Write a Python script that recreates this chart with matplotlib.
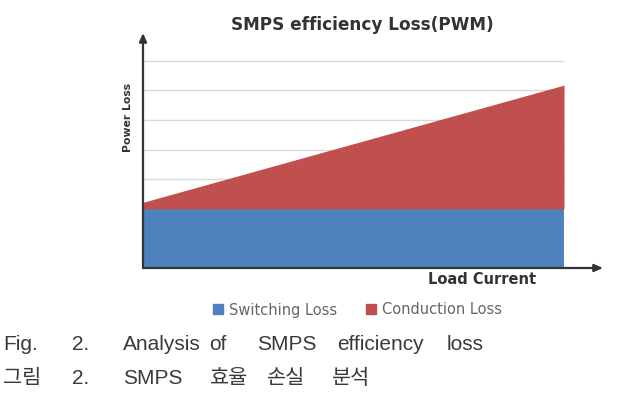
import matplotlib.pyplot as plt
from matplotlib.lines import Line2D

# data
load_current = [0.0, 1.0]
switching_loss = [2.0, 2.0]
conduction_loss = [0.22, 4.18]
grid_levels = [3, 4, 5, 6, 7]
series_names = ["Switching Loss", "Conduction Loss"]
series_colors = ["#4F81BD", "#C0504D"]

caption_en = ["Fig.", "2.", "Analysis", "of", "SMPS", "efficiency", "loss"]
caption_en_x = [3, 72, 123, 209, 257, 337, 447]
caption_ko = ["그림", "2.", "SMPS", "효율", "손실", "분석"]
caption_ko_x = [3, 72, 123, 210, 267, 332]

W, H = 618, 404
fig = plt.figure(figsize=(W / 100, H / 100), dpi=100)
ax = fig.add_axes([143 / W, (H - 268) / H, (603 - 143) / W, (268 - 33) / H])

top = [s + c for s, c in zip(switching_loss, conduction_loss)]
ax.hlines(grid_levels, load_current[0], load_current[-1], color="#d9d9d9", lw=1, zorder=0)
ax.fill_between(load_current, 0, switching_loss, color=series_colors[0], lw=0, zorder=2)
ax.fill_between(load_current, switching_loss, top, color=series_colors[1], lw=0, zorder=2)

ax.set_xlim(0, 460 / 421)
ax.set_ylim(0, 7.94)
for s in ax.spines.values():
    s.set_visible(False)
ax.set_xticks([])
ax.set_yticks([])
ax.patch.set_alpha(0)

arrow = dict(arrowstyle="-|>,head_length=0.5,head_width=0.22", color="#333333", lw=1.6,
             shrinkA=0, shrinkB=0)
ax.annotate("", xy=(1, 0), xytext=(0, 0), xycoords="axes fraction", arrowprops=arrow, zorder=5)
ax.annotate("", xy=(0, 1), xytext=(0, 0), xycoords="axes fraction", arrowprops=arrow, zorder=5)

fig.text(362 / W, 1 - 25 / H, "SMPS efficiency Loss(PWM)", ha="center", va="center",
         fontsize=12.2, fontweight="bold", family="DejaVu Sans", color="#333333")
fig.text(128 / W, 1 - 117 / H, "Power Loss", ha="center", va="center", rotation=90,
         fontsize=7.8, fontweight="bold", family="DejaVu Sans", color="#333333")
fig.text(482 / W, 1 - 280 / H, "Load Current", ha="center", va="center",
         fontsize=10.5, fontweight="bold", family="DejaVu Sans", color="#333333")

handles = [Line2D([], [], marker="s", ls="", color=c, markersize=6.5) for c in series_colors]
fig.legend(handles, series_names, loc="center", bbox_to_anchor=(357 / W, 1 - 310 / H),
           ncol=2, frameon=False, handlelength=0.8, handletextpad=0.35, columnspacing=1.9,
           prop={"family": "DejaVu Sans", "size": 10.5}, labelcolor="#666666")

cap = dict(fontsize=15, color="#3a3a3a", va="baseline")
for word, x in zip(caption_en, caption_en_x):
    fig.text(x / W, 1 - 350 / H, word, family="Liberation Sans", **cap)
for word, x in zip(caption_ko, caption_ko_x):
    fig.text(x / W, 1 - 384 / H, word, family=["Liberation Sans", "Noto Sans CJK KR"], **cap)

fig.savefig("out.png", dpi=100)
